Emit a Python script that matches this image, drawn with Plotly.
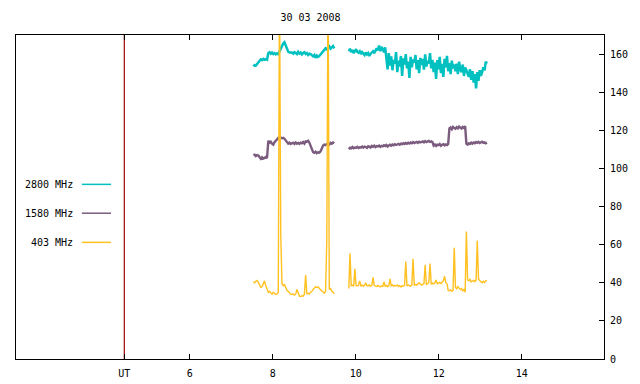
import numpy as np
import plotly.graph_objects as go

title_text = "30 03 2008"
x_tick_vals = [4.42, 6, 8, 10, 12, 14]
x_tick_text = ["UT", "6", "8", "10", "12", "14"]
y_tick_vals = [0, 20, 40, 60, 80, 100, 120, 140, 160]
ut_marker = 4.42
x_range = [1.81, 15.98]
y_range = [0, 170]

seg1_start, seg1_end = 7.53, 9.48
seg2_start, seg2_end = 9.83, 13.16

series_names = ["2800 MHz", "1580 MHz", "403 MHz"]

mhz2800_seg1 = [153.5, 154.2, 154.0, 155.0, 155.3,
                156.5, 157.2, 156.8, 157.5, 157.0, 157.3, 157.0,
                160.5, 161.0, 160.2, 160.8, 160.0, 160.5, 159.8, 160.3, 160.0,
                161.5, 162.8, 164.0, 165.5, 166.2,
                164.5, 162.5, 161.2, 160.8, 161.0,
                160.8, 160.2, 161.0, 160.5, 160.0, 161.2, 160.3, 160.8, 159.8, 160.6,
                161.0, 160.0, 160.5, 159.5, 160.2, 160.0, 159.5,
                158.8, 159.5, 158.0, 159.2, 158.5, 159.0, 159.8,
                160.5, 161.5, 162.5, 163.0, 162.5,
                163.2, 164.0, 162.8, 163.5, 164.2, 163.0]
mhz2800_seg2 = [161.5, 162.8, 161.0, 162.2, 160.5, 161.8, 162.5, 161.2, 160.8, 161.5,
                160.0, 161.0, 160.2, 159.5, 160.8, 159.8, 160.5, 159.0, 160.2, 160.8,
                161.5, 160.5, 161.8,
                163.0, 162.0, 164.5, 161.5, 163.8, 162.5, 161.0, 163.5,
                157.5, 152.0, 160.5, 154.0, 158.8, 151.5, 157.0, 155.0, 161.0, 150.5,
                156.5, 153.5, 159.0, 148.5, 157.8, 154.5, 160.0, 152.5, 156.0, 147.5,
                158.5, 153.0, 157.2, 155.5, 159.5, 152.0, 156.8, 150.0, 158.0, 154.2,
                157.5, 151.8, 159.8, 153.5, 156.5, 155.0, 160.5, 152.5, 157.0,
                150.5, 155.5, 147.0, 156.8, 152.0, 158.5, 150.0, 154.8, 148.0, 157.5,
                153.0, 159.0, 151.0, 155.2, 149.5, 156.5, 152.5, 154.5,
                151.0, 155.0, 149.5, 156.0, 152.0, 150.5, 154.5, 148.5, 153.0, 151.5, 150.0,
                148.0, 152.0, 146.5, 151.0, 145.0, 149.5, 142.0, 150.5, 146.0, 151.5, 148.5,
                150.5, 153.0, 151.5, 156.0, 155.0]

mhz1580_seg1 = [107.0, 107.2, 106.5, 107.0, 106.8,
                105.5, 105.0, 105.8, 105.2, 105.5, 106.0, 105.5,
                114.5,
                113.5, 114.0, 113.0, 112.5, 113.8, 114.5,
                115.5, 116.0, 115.2, 116.2, 115.8, 116.0, 115.5,
                114.5, 113.5, 113.0, 113.5, 112.8,
                113.2, 113.5, 112.8, 113.6, 113.0, 113.4, 112.9, 113.5, 113.2, 113.8,
                113.0, 114.2, 114.0, 114.5,
                113.5, 111.5, 109.5, 108.5,
                108.2, 108.8, 108.0, 108.5, 108.3, 109.0,
                110.5, 112.0, 112.5, 112.2,
                112.8, 113.0, 112.5, 113.4, 113.0, 113.6, 113.2]
mhz1580_seg2 = [110.0, 110.8, 110.5, 111.2, 110.6, 111.0, 110.8, 111.3, 110.7, 111.1,
                111.0, 111.5, 110.9, 111.4, 111.2, 110.8, 111.6, 111.3, 111.0, 111.8,
                111.4, 111.9, 111.2, 111.7, 111.5, 112.0, 111.3, 111.8, 111.6, 112.2,
                111.8, 112.3, 111.5, 112.0, 112.4, 111.9, 112.5, 112.1, 112.7, 112.3,
                112.6, 112.9, 112.4, 113.0, 112.7, 113.2, 112.8, 113.3, 112.9, 113.5,
                113.1, 113.6, 113.2, 113.8, 113.3, 113.7, 113.9, 113.4, 114.0, 113.6,
                113.9, 114.2, 113.7, 114.3, 113.8, 114.1, 114.4, 113.9, 114.2, 113.8,
                112.0, 112.6, 111.8, 112.5, 112.2, 112.8, 111.9, 112.4, 112.7, 112.1,
                112.6, 112.3, 112.9,
                121.0, 121.5, 120.6, 121.8, 121.2, 120.8, 121.6, 121.0, 122.0, 121.3,
                120.9, 121.7, 121.2, 122.2,
                113.0, 112.5, 113.2, 112.8, 113.5, 113.0, 113.6, 113.2, 113.8, 113.4,
                113.9, 113.3, 113.6, 114.0, 113.4, 113.7, 113.2, 113.5]

mhz403_seg1 = [40.5, 40.0, 40.8, 41.2, 40.2,
               38.5, 37.5, 38.0,
               40.0, 41.0,
               38.5, 36.5, 35.0, 35.5,
               34.5, 34.0, 35.0, 34.2, 33.8, 34.0, 35.0,
               200.0,
               65.0,
               39.5, 38.5, 39.0,
               37.0, 36.0, 35.5, 34.5,
               34.0, 33.8, 34.2, 33.5, 34.0, 36.5, 34.0,
               33.0, 32.8, 33.2, 33.0, 34.0,
               44.0,
               34.0, 34.5, 34.2, 35.0, 35.5,
               36.5, 37.5, 38.0, 37.5, 37.8, 37.0, 36.5,
               35.5, 35.0, 34.5, 35.5,
               62.5,
               200.0,
               36.5, 37.0, 35.5, 35.0, 34.2]
mhz403_seg2 = [37.0, 55.5, 38.5, 38.8, 38.2, 47.3, 38.6, 38.3, 38.7, 41.0,
               38.4, 38.8, 38.2, 38.6, 40.0, 38.5, 38.3, 38.9, 38.2, 38.6,
               42.8,
               38.5, 38.2, 38.0, 38.6, 38.3, 37.8, 38.4, 38.1, 40.5, 38.2, 38.6, 38.0, 38.4,
               42.0,
               38.5, 39.0, 38.2, 38.6, 38.3, 38.8, 38.0, 38.5, 37.8, 38.4, 38.2, 38.7,
               51.2,
               38.3, 38.8, 38.5, 38.2, 38.9,
               52.6,
               38.6, 39.2, 38.8, 39.5, 40.0, 39.4, 38.8, 39.2, 39.6,
               49.4,
               39.0, 39.5, 40.2,
               50.1,
               39.2, 39.8, 39.4, 40.0, 41.5, 39.5, 39.8, 40.2, 39.6, 40.5, 41.0,
               43.4,
               40.2, 39.5,
               36.0, 35.8, 36.2, 35.5, 36.0,
               58.4,
               37.5, 36.8, 38.0, 37.2, 36.5, 37.0, 35.8, 36.5,
               35.0,
               66.9,
               41.5, 41.0, 41.8, 40.5, 40.8, 41.2, 40.6, 41.5,
               62.0,
               42.0, 41.2, 40.5, 40.0, 40.8, 40.2, 41.0, 41.3]

colors = ["#00c0c0", "#7b5c7f", "#ffc020"]
widths = [2.5, 2.4, 1.4]
ut_color = "#a00000"
FONT = "DejaVu Sans Mono"


def join_segments(a, b):
    t1 = np.linspace(seg1_start, seg1_end, len(a))
    t2 = np.linspace(seg2_start, seg2_end, len(b))
    x = list(t1) + [None] + list(t2)
    y = list(a) + [None] + list(b)
    return x, y


fig = go.Figure()

# UT marker line
fig.add_trace(go.Scatter(x=[ut_marker, ut_marker], y=y_range, mode="lines",
                         line=dict(color=ut_color, width=1.2), showlegend=False,
                         hoverinfo="skip"))

all_series = [(mhz2800_seg1, mhz2800_seg2), (mhz1580_seg1, mhz1580_seg2),
              (mhz403_seg1, mhz403_seg2)]
for name, (a, b), c, w in zip(series_names, all_series, colors, widths):
    x, y = join_segments(a, b)
    fig.add_trace(go.Scatter(x=x, y=y, mode="lines", name=name,
                             line=dict(color=c, width=w), connectgaps=False,
                             showlegend=False))

# gnuplot-style key
key_y = [0.539, 0.450, 0.360]
for name, c, ky in zip(series_names, colors, key_y):
    fig.add_annotation(x=0.100, y=ky, xref="paper", yref="paper", text=name,
                       showarrow=False, xanchor="right", yanchor="middle",
                       font=dict(family=FONT, size=10, color="black"))
    fig.add_shape(type="line", xref="paper", yref="paper", x0=0.112, x1=0.1616,
                  y0=ky, y1=ky, line=dict(color=c, width=1.5))

fig.update_layout(
    width=640, height=384,
    margin=dict(l=16, r=36, t=35, b=25, autoexpand=False),
    paper_bgcolor="white", plot_bgcolor="white",
    font=dict(family=FONT, size=10, color="black"),
    title=dict(text=title_text, x=0.4852, xanchor="center", y=1 - 17.5 / 384,
               yanchor="middle", font=dict(family=FONT, size=10)),
    showlegend=False,
)
fig.update_xaxes(range=x_range, tickvals=x_tick_vals, ticktext=x_tick_text,
                 ticks="inside", ticklen=5, tickcolor="black", tickwidth=1,
                 showline=True, linecolor="black", linewidth=1, mirror="ticks",
                 showgrid=False, zeroline=False, ticklabelstandoff=5)
fig.update_yaxes(range=y_range, tickvals=y_tick_vals, side="right",
                 ticks="inside", ticklen=5, tickcolor="black", tickwidth=1,
                 showline=True, linecolor="black", linewidth=1, mirror=True,
                 showgrid=False, zeroline=False, ticklabelstandoff=3)

fig.write_html("out.html", config={"displayModeBar": False},
               post_script="document.body.style.margin='0';")
